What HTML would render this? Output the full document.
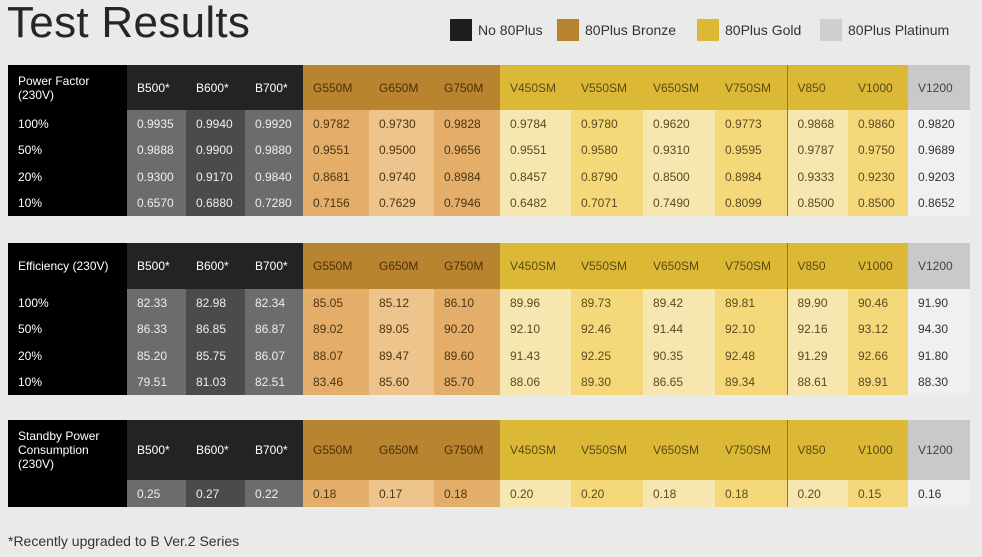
<!DOCTYPE html>
<html><head><meta charset="utf-8"><style>
body{margin:0;width:982px;height:557px;background:#eaeae8;font-family:"Liberation Sans",sans-serif;position:relative;overflow:hidden}
.t{position:absolute;left:7px;top:-2px;font-size:44px;color:#262626;letter-spacing:0.3px}
.lg{position:absolute;top:19px;height:22px;font-size:14px;color:#333;line-height:22px}
.lg i{display:inline-block;width:22px;height:22px;vertical-align:top;margin-right:6px}
table{position:absolute;left:8px;border-collapse:collapse;font-size:12px}
td{padding:0 0 0 10px;white-space:nowrap}
.lab{background:#000;color:#fff}
.hb{background:#232323;color:#fff}.hg{background:#b8842f;color:#4a300a}.hv{background:#dbb937;color:#5a4a15}.hp{background:#c9c9c9;color:#444}
.b1{background:#6c6c6c;color:#eee}.b2{background:#4b4b4b;color:#eee}
.g1{background:#e4ae6a;color:#4a3410}.g2{background:#edc48b;color:#4a3410}
.v1{background:#f6e6b0;color:#5a4b20}.v2{background:#f5d879;color:#5a4b20}
.p{background:#f0f0f0;color:#333}
.sep{border-left:1px solid #777}
.foot{position:absolute;left:8px;top:533px;font-size:14px;color:#333}
</style></head><body>
<div class="t">Test Results</div>
<div class="lg" style="left:450px"><i style="background:#1e1e1e"></i>No 80Plus</div>
<div class="lg" style="left:557px"><i style="background:#b8842f"></i>80Plus Bronze</div>
<div class="lg" style="left:697px"><i style="background:#dbb937"></i>80Plus Gold</div>
<div class="lg" style="left:820px"><i style="background:#cfcfcf"></i>80Plus Platinum</div>
<table style="top:65px">
<colgroup><col style="width:119px"><col style="width:59px"><col style="width:59px"><col style="width:58px"><col style="width:66px"><col style="width:65px"><col style="width:66px"><col style="width:71px"><col style="width:72px"><col style="width:72px"><col style="width:72px"><col style="width:61px"><col style="width:60px"><col style="width:62px"></colgroup>
<tr style="height:45px"><td class="lab">Power Factor<br>(230V)</td><td class="hb">B500*</td><td class="hb">B600*</td><td class="hb">B700*</td><td class="hg">G550M</td><td class="hg">G650M</td><td class="hg">G750M</td><td class="hv">V450SM</td><td class="hv">V550SM</td><td class="hv">V650SM</td><td class="hv">V750SM</td><td class="hv sep">V850</td><td class="hv">V1000</td><td class="hp">V1200</td></tr>
<tr style="height:27px"><td class="lab">100%</td><td class="b1">0.9935</td><td class="b2">0.9940</td><td class="b1">0.9920</td><td class="g1">0.9782</td><td class="g2">0.9730</td><td class="g1">0.9828</td><td class="v1">0.9784</td><td class="v2">0.9780</td><td class="v1">0.9620</td><td class="v2">0.9773</td><td class="v1 sep">0.9868</td><td class="v2">0.9860</td><td class="p">0.9820</td></tr>
<tr style="height:26px"><td class="lab">50%</td><td class="b1">0.9888</td><td class="b2">0.9900</td><td class="b1">0.9880</td><td class="g1">0.9551</td><td class="g2">0.9500</td><td class="g1">0.9656</td><td class="v1">0.9551</td><td class="v2">0.9580</td><td class="v1">0.9310</td><td class="v2">0.9595</td><td class="v1 sep">0.9787</td><td class="v2">0.9750</td><td class="p">0.9689</td></tr>
<tr style="height:27px"><td class="lab">20%</td><td class="b1">0.9300</td><td class="b2">0.9170</td><td class="b1">0.9840</td><td class="g1">0.8681</td><td class="g2">0.9740</td><td class="g1">0.8984</td><td class="v1">0.8457</td><td class="v2">0.8790</td><td class="v1">0.8500</td><td class="v2">0.8984</td><td class="v1 sep">0.9333</td><td class="v2">0.9230</td><td class="p">0.9203</td></tr>
<tr style="height:26px"><td class="lab">10%</td><td class="b1">0.6570</td><td class="b2">0.6880</td><td class="b1">0.7280</td><td class="g1">0.7156</td><td class="g2">0.7629</td><td class="g1">0.7946</td><td class="v1">0.6482</td><td class="v2">0.7071</td><td class="v1">0.7490</td><td class="v2">0.8099</td><td class="v1 sep">0.8500</td><td class="v2">0.8500</td><td class="p">0.8652</td></tr>
</table>
<table style="top:243px">
<colgroup><col style="width:119px"><col style="width:59px"><col style="width:59px"><col style="width:58px"><col style="width:66px"><col style="width:65px"><col style="width:66px"><col style="width:71px"><col style="width:72px"><col style="width:72px"><col style="width:72px"><col style="width:61px"><col style="width:60px"><col style="width:62px"></colgroup>
<tr style="height:46px"><td class="lab">Efficiency (230V)</td><td class="hb">B500*</td><td class="hb">B600*</td><td class="hb">B700*</td><td class="hg">G550M</td><td class="hg">G650M</td><td class="hg">G750M</td><td class="hv">V450SM</td><td class="hv">V550SM</td><td class="hv">V650SM</td><td class="hv">V750SM</td><td class="hv sep">V850</td><td class="hv">V1000</td><td class="hp">V1200</td></tr>
<tr style="height:27px"><td class="lab">100%</td><td class="b1">82.33</td><td class="b2">82.98</td><td class="b1">82.34</td><td class="g1">85.05</td><td class="g2">85.12</td><td class="g1">86.10</td><td class="v1">89.96</td><td class="v2">89.73</td><td class="v1">89.42</td><td class="v2">89.81</td><td class="v1 sep">89.90</td><td class="v2">90.46</td><td class="p">91.90</td></tr>
<tr style="height:26px"><td class="lab">50%</td><td class="b1">86.33</td><td class="b2">86.85</td><td class="b1">86.87</td><td class="g1">89.02</td><td class="g2">89.05</td><td class="g1">90.20</td><td class="v1">92.10</td><td class="v2">92.46</td><td class="v1">91.44</td><td class="v2">92.10</td><td class="v1 sep">92.16</td><td class="v2">93.12</td><td class="p">94.30</td></tr>
<tr style="height:27px"><td class="lab">20%</td><td class="b1">85.20</td><td class="b2">85.75</td><td class="b1">86.07</td><td class="g1">88.07</td><td class="g2">89.47</td><td class="g1">89.60</td><td class="v1">91.43</td><td class="v2">92.25</td><td class="v1">90.35</td><td class="v2">92.48</td><td class="v1 sep">91.29</td><td class="v2">92.66</td><td class="p">91.80</td></tr>
<tr style="height:26px"><td class="lab">10%</td><td class="b1">79.51</td><td class="b2">81.03</td><td class="b1">82.51</td><td class="g1">83.46</td><td class="g2">85.60</td><td class="g1">85.70</td><td class="v1">88.06</td><td class="v2">89.30</td><td class="v1">86.65</td><td class="v2">89.34</td><td class="v1 sep">88.61</td><td class="v2">89.91</td><td class="p">88.30</td></tr>
</table>
<table style="top:420px">
<colgroup><col style="width:119px"><col style="width:59px"><col style="width:59px"><col style="width:58px"><col style="width:66px"><col style="width:65px"><col style="width:66px"><col style="width:71px"><col style="width:72px"><col style="width:72px"><col style="width:72px"><col style="width:61px"><col style="width:60px"><col style="width:62px"></colgroup>
<tr style="height:60px"><td class="lab">Standby Power<br>Consumption<br>(230V)</td><td class="hb">B500*</td><td class="hb">B600*</td><td class="hb">B700*</td><td class="hg">G550M</td><td class="hg">G650M</td><td class="hg">G750M</td><td class="hv">V450SM</td><td class="hv">V550SM</td><td class="hv">V650SM</td><td class="hv">V750SM</td><td class="hv sep">V850</td><td class="hv">V1000</td><td class="hp">V1200</td></tr>
<tr style="height:27px"><td class="lab"></td><td class="b1">0.25</td><td class="b2">0.27</td><td class="b1">0.22</td><td class="g1">0.18</td><td class="g2">0.17</td><td class="g1">0.18</td><td class="v1">0.20</td><td class="v2">0.20</td><td class="v1">0.18</td><td class="v2">0.18</td><td class="v1 sep">0.20</td><td class="v2">0.15</td><td class="p">0.16</td></tr>
</table>
<div class="foot">*Recently upgraded to B Ver.2 Series</div>
</body></html>
